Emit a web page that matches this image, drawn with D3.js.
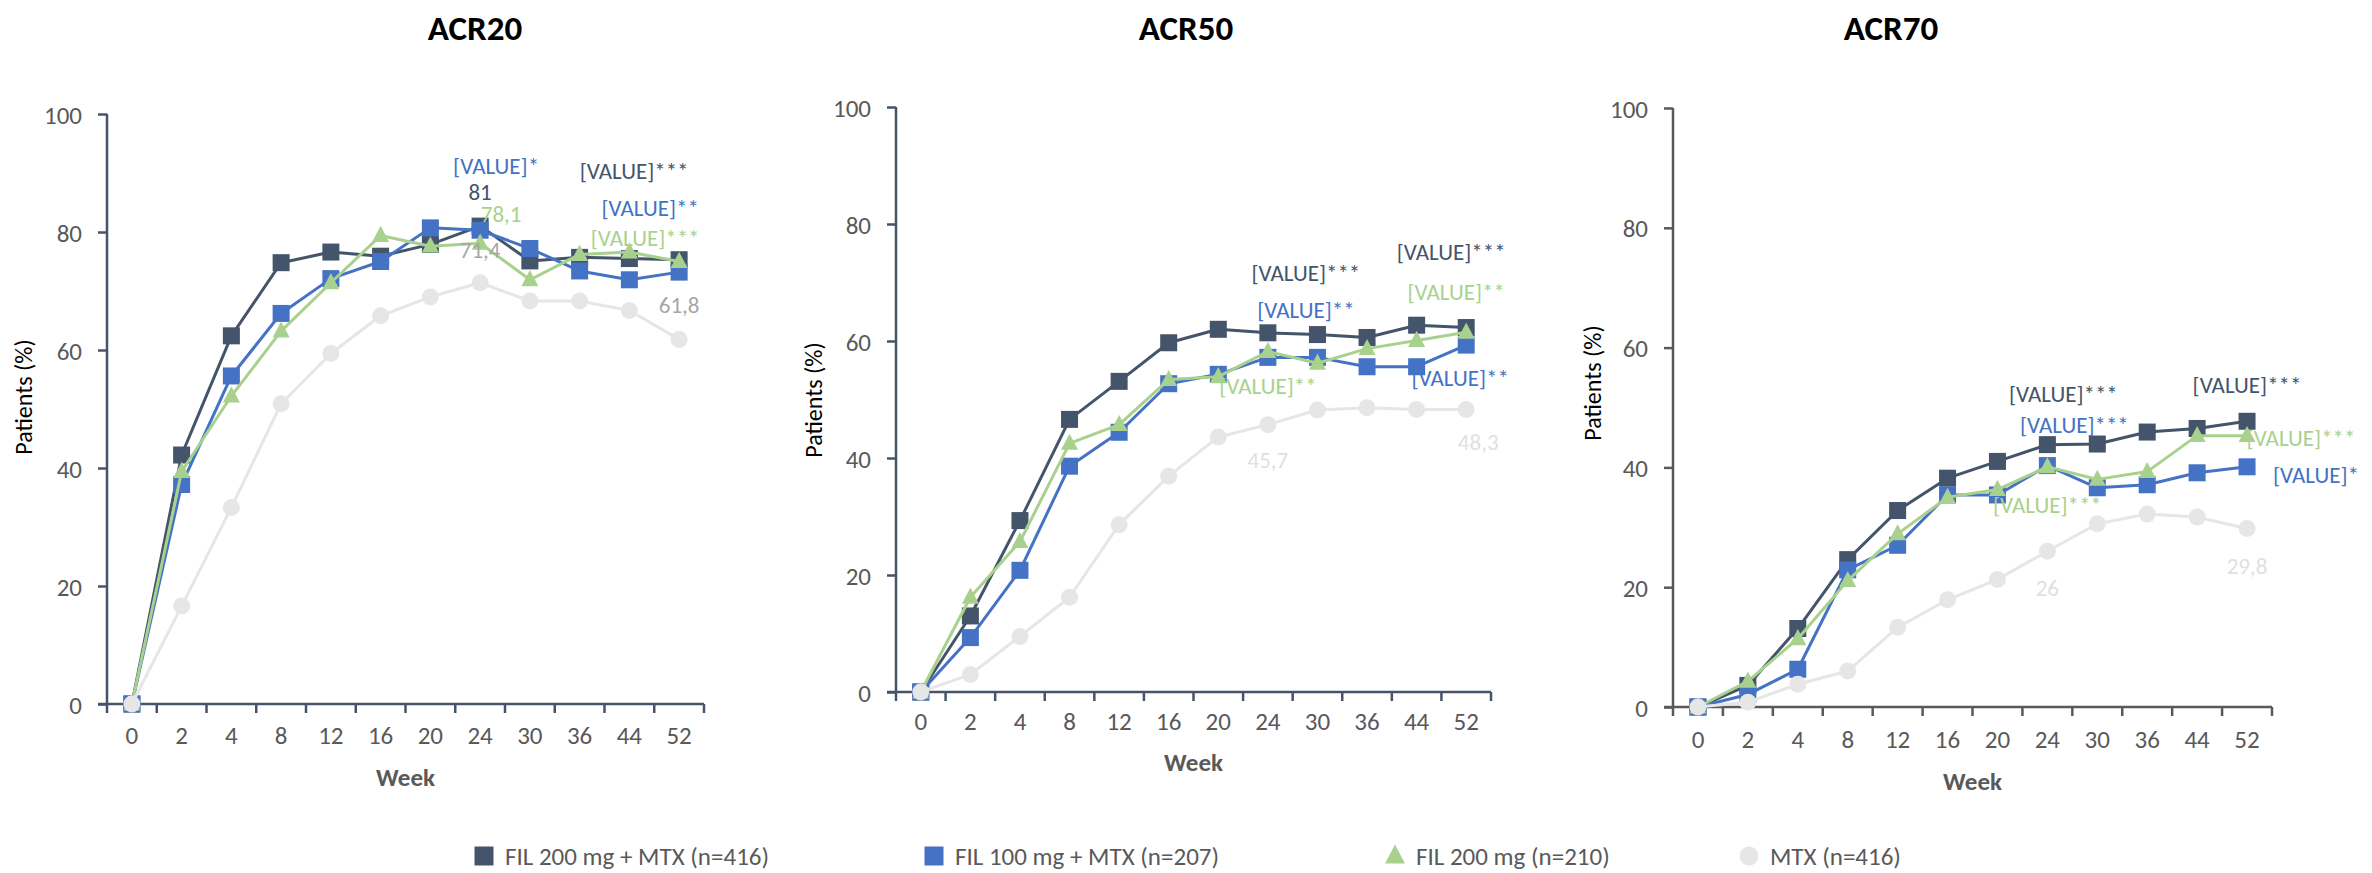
<!DOCTYPE html>
<html>
<head>
<meta charset="utf-8">
<script src="https://cdn.jsdelivr.net/npm/d3@7"></script>
<style>
  body { margin: 0; background: #fff; }
  svg { display: block; font-family: Carlito, Calibri, Lato, sans-serif; }
</style>
</head>
<body>
<div id="plotSect"></div>
<script>
/* global d3 */

// data //

let weeks = ["0", "2", "4", "8", "12", "16", "20", "24", "30", "36", "44", "52"];
let seriesNames = ["FIL 200 mg + MTX (n=416)", "FIL 100 mg + MTX (n=207)", "FIL 200 mg (n=210)", "MTX (n=416)"];
let panelTitles = ["ACR20", "ACR50", "ACR70"];
let yTicks = [0, 20, 40, 60, 80, 100];

let acr20Fil200Mtx = [0, 42.2, 62.4, 74.8, 76.6, 75.9, 77.9, 81.0, 75.1, 75.7, 75.5, 75.3];
let acr20Fil100Mtx = [0, 37.2, 55.6, 66.2, 72.1, 75.0, 80.7, 80.3, 77.2, 73.4, 71.9, 73.2];
let acr20Fil200 = [0, 39.4, 52.2, 63.2, 71.4, 79.4, 77.6, 78.1, 71.9, 76.2, 76.6, 75.0];
let acr20Mtx = [0, 16.6, 33.3, 50.9, 59.4, 65.8, 69.0, 71.4, 68.3, 68.3, 66.7, 61.8];

let acr50Fil200Mtx = [0, 13.0, 29.3, 46.6, 53.1, 59.7, 62.0, 61.4, 61.1, 60.6, 62.7, 62.3];
let acr50Fil100Mtx = [0, 9.3, 20.8, 38.6, 44.4, 52.7, 54.3, 57.2, 57.2, 55.6, 55.6, 59.3];
let acr50Fil200 = [0, 16.2, 25.7, 42.5, 45.7, 53.4, 53.9, 58.2, 56.2, 58.7, 60.1, 61.5];
let acr50Mtx = [0, 3.0, 9.5, 16.2, 28.6, 36.9, 43.6, 45.7, 48.2, 48.6, 48.3, 48.3];

let acr70Fil200Mtx = [0, 3.6, 13.1, 24.6, 32.8, 38.2, 41.0, 43.8, 43.9, 45.9, 46.5, 47.7];
let acr70Fil100Mtx = [0, 2.1, 6.3, 22.9, 27.0, 35.4, 35.4, 40.3, 36.6, 37.1, 39.1, 40.1];
let acr70Fil200 = [0, 4.3, 11.4, 21.1, 28.9, 35.0, 36.3, 40.1, 38.0, 39.3, 45.3, 45.3];
let acr70Mtx = [0, 0.8, 3.8, 6.0, 13.3, 17.9, 21.3, 26.0, 30.6, 32.2, 31.7, 29.8];

let panelSeries = [
    [acr20Fil200Mtx, acr20Fil100Mtx, acr20Fil200, acr20Mtx],
    [acr50Fil200Mtx, acr50Fil100Mtx, acr50Fil200, acr50Mtx],
    [acr70Fil200Mtx, acr70Fil100Mtx, acr70Fil200, acr70Mtx]
];

// data labels: series index, week, text, then offset from the point //
let acr20Labels = [
    [1, "24", "[VALUE]*", 16, -64],
    [0, "24", "81", 0, -34],
    [2, "24", "78,1", 21, -29],
    [3, "24", "71,4", 0, -33],
    [0, "52", "[VALUE]***", -45, -89],
    [1, "52", "[VALUE]**", -29, -64],
    [2, "52", "[VALUE]***", -34, -24],
    [3, "52", "61,8", 0, -34]
];
let acr50Labels = [
    [0, "24", "[VALUE]***", 38, -60],
    [1, "24", "[VALUE]**", 38, -47],
    [2, "24", "[VALUE]**", 0, 34],
    [0, "52", "[VALUE]***", -15, -76],
    [2, "52", "[VALUE]**", -10, -40],
    [1, "52", "[VALUE]**", -6, 33],
    [3, "24", "45,7", 0, 35],
    [3, "52", "48,3", 12, 33]
];
let acr70Labels = [
    [0, "24", "[VALUE]***", 16, -51],
    [1, "24", "[VALUE]***", 27, -41],
    [2, "24", "[VALUE]***", 0, 38],
    [0, "52", "[VALUE]***", 0, -36],
    [2, "52", "[VALUE]***", 54, 2],
    [1, "52", "[VALUE]*", 69, 8],
    [3, "24", "26", 0, 37],
    [3, "52", "29,8", 0, 37]
];
let panelLabels = [acr20Labels, acr50Labels, acr70Labels];

// styling and layout //

let SVGwidth = 2372,
    SVGheight = 873;

let colors = ["#44546a", "#4472c4", "#a9d18e", "#e7e6e6"];
let markers = ["square", "square", "triangle", "circle"];
let greyLabel = ["#a6a6a6", "#e0e0e0", "#e0e0e0"];
let textGrey = "#595959";

let panels = [
    {left: 107, right: 704, top: 114, bottom: 704, titleX: 475, axis: "#44546a", yTitleX: 24, yTitleY: 397, weekDy: 73, tickDy: 35},
    {left: 896, right: 1491, top: 107, bottom: 692, titleX: 1186, axis: "#44546a", yTitleX: 814, yTitleY: 400, weekDy: 70, tickDy: 33},
    {left: 1673, right: 2272, top: 108, bottom: 707, titleX: 1891, axis: "#595959", yTitleX: 1593, yTitleY: 383, weekDy: 74, tickDy: 36}
];

let legendX = [474, 924, 1385, 1739];
let legendY = 856;

let svg = d3.select("#plotSect").append("svg")
    .attr("width", SVGwidth)
    .attr("height", SVGheight)
    .attr("viewBox", "0 0 " + SVGwidth + " " + SVGheight);

function drawMarker(sel, type, color, size) {
    if (type == "square") {
        sel.append("rect")
            .attr("x", -size / 2).attr("y", -size / 2)
            .attr("width", size).attr("height", size)
            .style("fill", color);
    } else if (type == "triangle") {
        let h = size * 0.95;
        sel.append("path")
            .attr("d", "M0," + (-h * 0.6) + "L" + (size / 2) + "," + (h * 0.4) + "L" + (-size / 2) + "," + (h * 0.4) + "Z")
            .style("fill", color);
    } else {
        sel.append("circle")
            .attr("r", size / 2)
            .style("fill", color);
    }
}

panels.forEach(function(p, pi) {
    let g = svg.append("g");

    let xScale = d3.scaleBand().domain(weeks).range([p.left, p.right]).padding(0);
    let yScale = d3.scaleLinear().domain([0, 100]).range([p.bottom, p.top]);
    let cx = function(w) { return xScale(w) + xScale.bandwidth() / 2; };

    // title
    g.append("text")
        .attr("x", p.titleX)
        .attr("y", 40)
        .style("text-anchor", "middle")
        .style("font-size", "35px")
        .style("font-weight", "bold")
        .style("fill", "#000")
        .text(panelTitles[pi]);

    // y axis
    let yAxis = g.append("g")
        .attr("transform", "translate(" + p.left + ",0)")
        .call(d3.axisLeft(yScale).tickValues(yTicks).tickSize(9).tickPadding(16));
    yAxis.select(".domain").attr("d", "M0," + p.top + "V" + p.bottom);

    // x axis, ticks on band edges
    let xAxis = g.append("g")
        .attr("transform", "translate(0," + p.bottom + ")")
        .call(d3.axisBottom(xScale).tickSize(0).tickPadding(p.tickDy - 13));
    xAxis.select(".domain").attr("d", "M" + (p.left - 9) + ",0H" + p.right);
    xAxis.selectAll(".edge")
        .data(d3.range(weeks.length + 1))
        .enter().append("line")
        .attr("class", "edge")
        .attr("x1", function(i) { return p.left + i * xScale.bandwidth(); })
        .attr("x2", function(i) { return p.left + i * xScale.bandwidth(); })
        .attr("y1", 0)
        .attr("y2", 9);

    [yAxis, xAxis].forEach(function(a) {
        a.selectAll(".domain, line")
            .style("stroke", p.axis)
            .style("stroke-width", 2.5);
        a.selectAll("text")
            .style("font-size", "25px")
            .style("fill", textGrey)
            .style("font-family", "Carlito, Calibri, Lato, sans-serif");
    });
    yAxis.selectAll(".tick text").attr("dy", "0.36em");

    // axis titles
    g.append("text")
        .attr("transform", "translate(" + p.yTitleX + "," + p.yTitleY + ") rotate(-90)")
        .attr("dy", "0.35em")
        .style("text-anchor", "middle")
        .style("font-size", "24px")
        .style("fill", "#000")
        .text("Patients (%)");

    g.append("text")
        .attr("x", (p.left + p.right) / 2)
        .attr("y", p.bottom + p.weekDy)
        .attr("dy", "0.35em")
        .style("text-anchor", "middle")
        .style("font-size", "25px")
        .style("font-weight", "bold")
        .style("fill", textGrey)
        .text("Week");

    // series
    let line = d3.line()
        .x(function(d, i) { return cx(weeks[i]); })
        .y(function(d) { return yScale(d); });

    panelSeries[pi].forEach(function(values, si) {
        g.append("path")
            .datum(values)
            .attr("d", line)
            .style("fill", "none")
            .style("stroke", colors[si])
            .style("stroke-width", 3)
            .style("stroke-linejoin", "round");

        let pts = g.selectAll(".pt" + si)
            .data(values)
            .enter().append("g")
            .attr("class", "pt" + si)
            .attr("transform", function(d, i) { return "translate(" + cx(weeks[i]) + "," + yScale(d) + ")"; });
        pts.each(function() {
            drawMarker(d3.select(this), markers[si], colors[si], 17);
        });
    });

    // data labels
    g.selectAll(".dlabel")
        .data(panelLabels[pi])
        .enter().append("text")
        .attr("class", "dlabel")
        .attr("x", function(d) { return cx(d[1]) + d[3]; })
        .attr("y", function(d) {
            let v = panelSeries[pi][d[0]][weeks.indexOf(d[1])];
            return yScale(v) + d[4];
        })
        .attr("dy", "0.35em")
        .style("text-anchor", "middle")
        .style("font-size", "23px")
        .style("fill", function(d) { return d[0] == 3 ? greyLabel[pi] : colors[d[0]]; })
        .text(function(d) { return d[2]; });
});

// legend //

let legend = svg.selectAll(".legend")
    .data(seriesNames)
    .enter().append("g")
    .attr("class", "legend")
    .attr("transform", function(d, i) { return "translate(" + legendX[i] + "," + legendY + ")"; });

legend.each(function(d, i) {
    let item = d3.select(this).append("g").attr("transform", "translate(10,0)");
    drawMarker(item, markers[i], colors[i], i == 2 ? 20 : 19);
});

legend.append("text")
    .attr("x", 31)
    .attr("y", 0)
    .attr("dy", "0.35em")
    .style("font-size", "25px")
    .style("fill", textGrey)
    .text(function(d) { return d; });
</script>
</body>
</html>
